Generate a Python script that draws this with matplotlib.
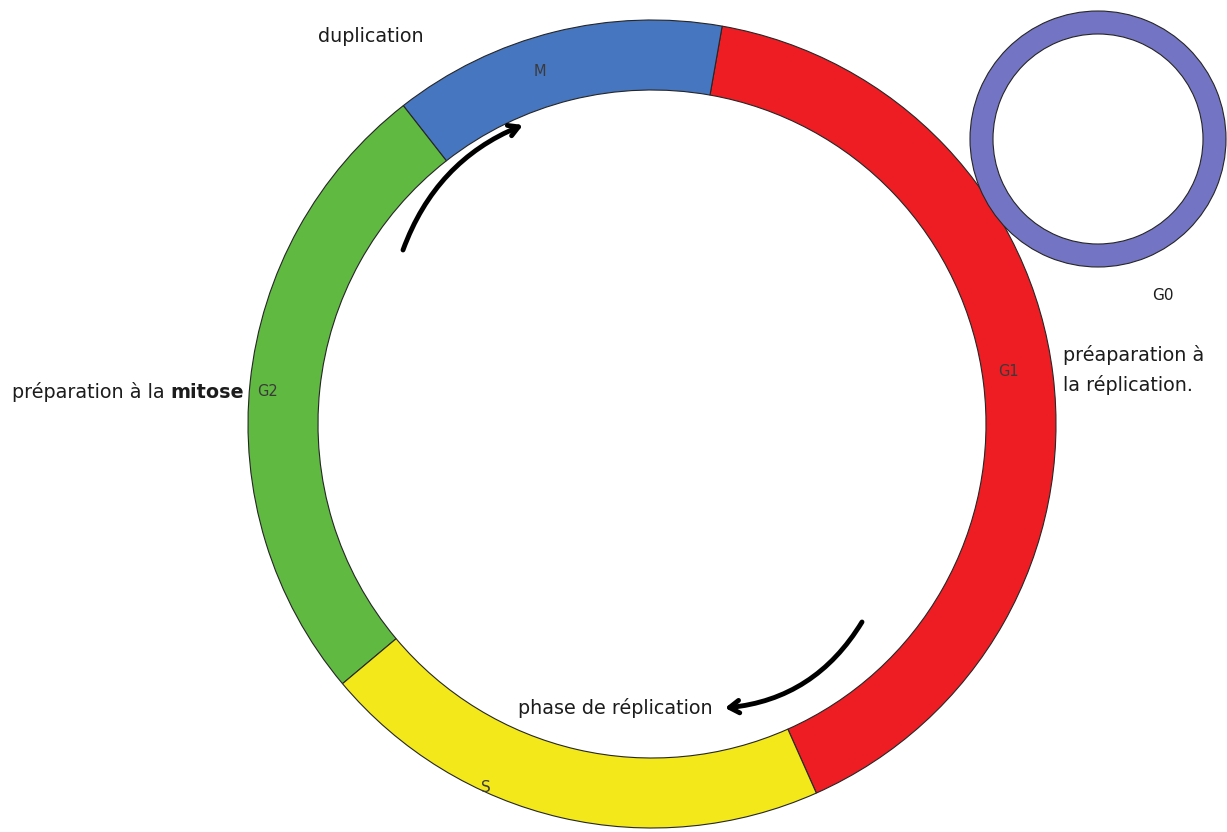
import matplotlib
matplotlib.use('Agg')
import matplotlib.pyplot as plt
from matplotlib.patches import Wedge

# Phases of the cell cycle, spans in degrees (counter-clockwise from G1 start)
phases = ['G1', 'M', 'G2', 'S']
spans = [146, 48, 92, 74]
colors = ['#EE1D23', '#4676C0', '#60B940', '#F2E81A']
g0_color = '#7474C4'

W, H = 1227, 832

fig = plt.figure(figsize=(W / 100, H / 100), dpi=100)
ax = fig.add_axes([0, 0, 1, 1])

# main ring (y is flipped: picture pixels measured from the top)
ax.pie(spans, colors=colors, startangle=-66, counterclock=True,
       radius=404, center=(652, H - 424),
       wedgeprops=dict(width=70, edgecolor='#262626', linewidth=0.8))

# G0 ring
ax.add_patch(Wedge((1098, H - 139), 128, 0, 360, width=23,
                   facecolor=g0_color, edgecolor='#262626', linewidth=0.8))

ax.set_xlim(0, W)
ax.set_ylim(0, H)
ax.set_aspect('equal')
ax.axis('off')

txt = '#1c1c1c'
small = '#3a3a3a'
fs = 13.8

# phase names on the ring
ax.text(540, H - 72, 'M', fontsize=10.5, color=small, ha='center', va='center')
ax.text(268, H - 392, 'G2', fontsize=10.5, color=small, ha='center', va='center')
ax.text(1008, H - 372, 'G1', fontsize=10.5, color=small, ha='center', va='center')
ax.text(486, H - 787, 'S', fontsize=11, color=small, ha='center', va='center')
ax.text(1163, H - 296, 'G0', fontsize=11, color=txt, ha='center', va='center')

# descriptions
ax.text(318, H - 37, 'duplication', fontsize=fs, color=txt, ha='left', va='center')
t1 = ax.text(12, H - 392, 'préparation à la', fontsize=fs, color=txt,
             ha='left', va='center')
ax.annotate('mitose', xy=(1, 0.5), xycoords=t1, xytext=(4, 0),
            textcoords='offset points', fontsize=fs, fontweight='bold',
            color=txt, ha='left', va='center')
ax.text(1063, H - 355, 'préaparation à', fontsize=fs, color=txt, ha='left', va='center')
ax.text(1063, H - 385, 'la réplication.', fontsize=fs, color=txt, ha='left', va='center')
ax.text(518, H - 708, 'phase de réplication', fontsize=fs, color=txt,
        ha='left', va='center')

# hand-drawn style arrows
ax.annotate('', xy=(523, H - 125), xytext=(403, H - 250),
            arrowprops=dict(arrowstyle='->,head_length=0.7,head_width=0.4',
                            color='black', lw=3.5, shrinkA=0, shrinkB=0,
                            connectionstyle='arc3,rad=-0.22'))
ax.annotate('', xy=(725, H - 708), xytext=(862, H - 622),
            arrowprops=dict(arrowstyle='->,head_length=0.7,head_width=0.45',
                            color='black', lw=3.5, shrinkA=0, shrinkB=0,
                            connectionstyle='arc3,rad=-0.25'))

fig.savefig('out.png', dpi=100, facecolor='white')
